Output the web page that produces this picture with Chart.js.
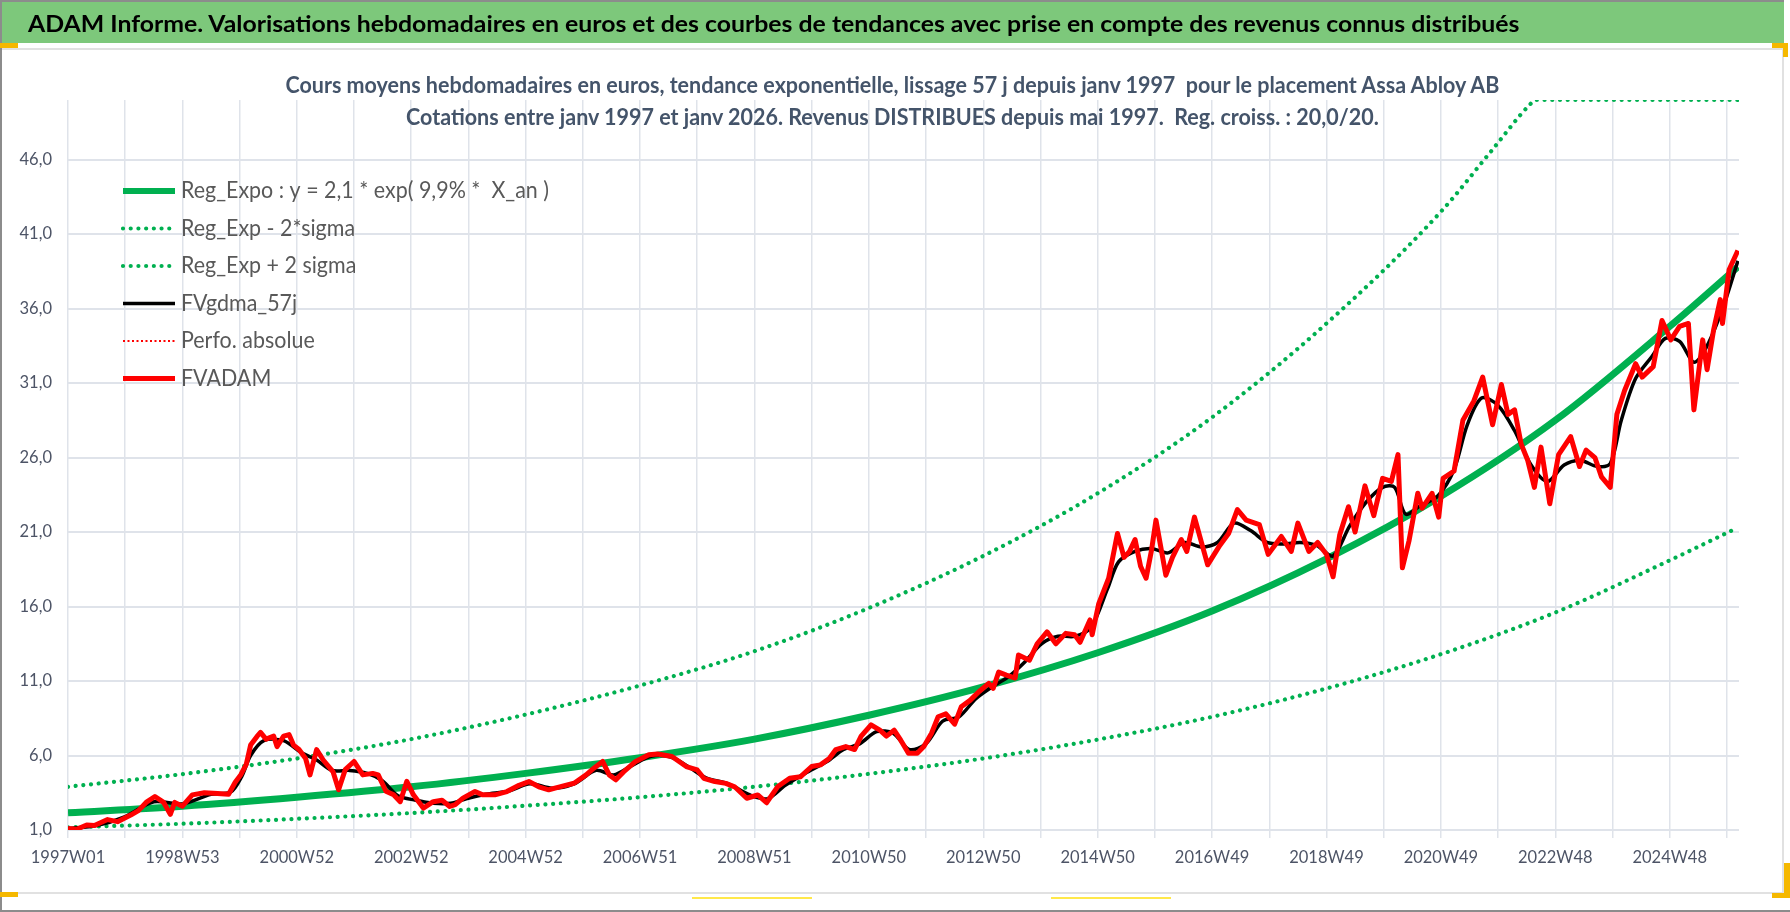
<!DOCTYPE html>
<html lang="fr">
<head>
<meta charset="utf-8">
<title>ADAM Informe - Assa Abloy AB</title>
<script src="https://cdn.jsdelivr.net/npm/chart.js@4.4.1/dist/chart.umd.min.js"></script>
<style>
  html, body { margin: 0; padding: 0; background: #fff; }
  #page { position: relative; width: 1790px; height: 912px; overflow: hidden; background: #fff; font-family: Lato, 'Open Sans', sans-serif; }
  #banner { position: absolute; left: 0; top: 0; width: 1784px; height: 43px; background: #7dc87b; border-top: 2px solid #8c8c8c; box-sizing: border-box; }
  .txt { position: absolute; white-space: pre; line-height: 1; font-weight: 700; font-size: 23px; }
  #bannerText { left: 28px; top: 11.6px; color: #000; transform-origin: 0 50%; z-index: 3; }
  .sub { color: #44546a; transform-origin: 50% 50%; z-index: 3; }
  #sub1 { top: 72.6px; }
  #sub2 { top: 104.6px; }
  #chartBox { position: absolute; left: 0; top: 0; width: 1790px; height: 912px; z-index: 2; }
  .deco { position: absolute; }
</style>
</head>
<body>
<div id="page">
  <div id="banner"></div>
  <div class="deco" style="left:0;top:48px;width:1782px;height:842px;border:2px solid #e1e1e1;border-left:none;"></div>
  <div class="deco" style="left:0;top:0;width:2px;height:912px;background:#8c8c8c;"></div>
  <div class="deco" style="left:0;top:910px;width:1790px;height:2px;background:#8c8c8c;"></div>
  <div class="deco" style="left:0;top:43px;width:18px;height:5px;background:#f5b800;"></div>
  <div class="deco" style="left:0;top:892px;width:18px;height:5px;background:#f5b800;"></div>
  <div class="deco" style="left:1772px;top:43px;width:16px;height:5px;background:#f5b800;"></div>
  <div class="deco" style="left:1783px;top:43px;width:5px;height:14px;background:#f5b800;"></div>
  <div class="deco" style="left:1784px;top:863px;width:6px;height:35px;background:#f5b800;"></div>
  <div class="deco" style="left:1772px;top:893px;width:18px;height:5px;background:#f5b800;"></div>
  <div class="deco" style="left:692px;top:897px;width:120px;height:2px;background:#ffe84a;"></div>
  <div class="deco" style="left:1051px;top:897px;width:120px;height:2px;background:#ffe84a;"></div>

  <span class="txt" id="bannerText">ADAM Informe. Valorisations hebdomadaires en euros et des courbes de tendances avec prise en compte des revenus connus distribués</span>
  <span class="txt sub" id="sub1">Cours moyens hebdomadaires en euros, tendance exponentielle, lissage 57 j depuis janv 1997  pour le placement Assa Abloy AB</span>
  <span class="txt sub" id="sub2">Cotations entre janv 1997 et janv 2026. Revenus DISTRIBUES depuis mai 1997.  Reg. croiss. : 20,0/20.</span>

  <div id="chartBox"><canvas id="adamChart"></canvas></div>
</div>

<script>
// x positions are week numbers counted from 1997W01
const xTickWeeks = [0, 104, 208, 312, 416, 520, 624, 728, 832, 936, 1040, 1144, 1248, 1352, 1456];
const xTickLabels = ['1997W01', '1998W53', '2000W52', '2002W52', '2004W52', '2006W51', '2008W51', '2010W50',
  '2012W50', '2014W50', '2016W49', '2018W49', '2020W49', '2022W48', '2024W48'];
const yTickValues = [1, 6, 11, 16, 21, 26, 31, 36, 41, 46];

// trend curves
const trendWeeks = [0, 104, 208, 312, 416, 520, 624, 728, 832, 936, 1040, 1144, 1248, 1352, 1456, 1518];
const regExpo = [2.15, 2.6, 3.2, 3.9, 4.8, 5.85, 7.1, 8.7, 10.6, 12.9, 15.7, 19.2, 23.4, 28.5, 34.8, 38.8];
const regExpMinus = [1.18, 1.42, 1.75, 2.14, 2.63, 3.2, 3.9, 4.77, 5.8, 7.07, 8.6, 10.5, 12.8, 15.6, 19.1, 21.3];
// upper band is cut flat at the top of the axis (50)
const plusWeeks = [0, 104, 208, 312, 416, 520, 624, 728, 832, 936, 1040, 1144, 1248, 1293, 1329, 1334, 1518];
const regExpPlus = [3.9, 4.75, 5.8, 7.1, 8.75, 10.7, 13.0, 15.9, 19.4, 23.6, 28.7, 35.0, 42.5, 46.5, 49.7, 50, 50];

// smoothed valuation (black)
const smoothWeeks = [0, 26, 52, 78, 104, 130, 148, 158, 166, 178, 196, 212, 226, 240, 256, 272, 286, 300, 316, 332,
  348, 362, 380, 400, 420, 440, 460, 480, 496, 512, 530, 548, 565, 580, 600, 620, 636, 652, 670, 690,
  705, 720, 735, 750, 765, 780, 795, 810, 825, 840, 855, 870, 885, 900, 915, 930, 945, 955, 970, 985,
  1000, 1015, 1030, 1045, 1060, 1075, 1090, 1105, 1120, 1135, 1150, 1165, 1180, 1195, 1206, 1216, 1230, 1245, 1260, 1272,
  1285, 1300, 1315, 1330, 1345, 1360, 1375, 1390, 1402, 1412, 1425, 1440, 1452, 1465, 1478, 1490, 1505, 1518];
const fvGdma = [1.1, 1.3, 1.9, 2.9, 2.75, 3.4, 3.55, 4.6, 6.0, 7.0, 7.0, 6.2, 5.7, 5.0, 5.0, 4.8, 4.3, 3.3, 3.0, 2.8,
  2.8, 3.1, 3.4, 3.6, 4.1, 3.8, 4.1, 5.0, 4.7, 5.3, 5.95, 5.9, 5.2, 4.5, 4.1, 3.35, 3.1, 4.0, 4.8, 5.6,
  6.4, 6.8, 7.6, 7.5, 6.4, 6.8, 8.3, 8.6, 9.8, 10.6, 11.3, 12.3, 13.5, 14.0, 14.0, 14.6, 17.2, 19.0, 19.7, 19.9,
  19.6, 20.3, 20.0, 20.3, 21.6, 21.1, 20.3, 20.2, 20.3, 20.1, 19.4, 21.4, 23.0, 24.0, 24.0, 22.2, 22.8, 23.4, 25.2, 28.2,
  30.0, 29.5, 27.8, 25.5, 24.4, 25.5, 25.8, 25.4, 25.6, 28.5, 31.3, 32.8, 34.0, 33.8, 32.4, 33.5, 36.2, 39.2];

// weekly valuation FVADAM (red)
const priceWeeks = [0, 8, 17, 24, 36, 45, 57, 64, 71, 79, 87, 93, 97, 104, 113, 124, 136, 146, 152, 157,
  162, 166, 172, 175, 180, 187, 190, 196, 201, 205, 210, 216, 220, 226, 232, 241, 246, 252, 260, 268,
  277, 282, 289, 296, 302, 308, 314, 323, 332, 340, 347, 352, 359, 370, 377, 388, 399, 410, 419, 428,
  437, 447, 460, 471, 478, 486, 492, 498, 505, 516, 528, 536, 549, 562, 572, 578, 588, 598, 606, 617,
  627, 635, 645, 656, 666, 676, 684, 692, 698, 707, 715, 721, 730, 738, 744, 751, 757, 764, 772, 778,
  785, 791, 798, 806, 812, 820, 828, 837, 841, 846, 853, 861, 864, 874, 881, 890, 898, 907, 915, 920,
  929, 931, 937, 946, 954, 960, 965, 970, 975, 980, 985, 989, 998, 1004, 1012, 1017, 1024, 1036, 1047, 1055,
  1063, 1071, 1083, 1091, 1103, 1112, 1118, 1128, 1136, 1144, 1150, 1156, 1164, 1170, 1179, 1187, 1195, 1203, 1209, 1213,
  1219, 1227, 1231, 1240, 1246, 1250, 1260, 1268, 1278, 1286, 1295, 1303, 1309, 1315, 1321, 1327, 1333, 1339, 1347, 1355,
  1366, 1374, 1380, 1388, 1394, 1402, 1408, 1415, 1425, 1431, 1441, 1449, 1457, 1465, 1473, 1478, 1486, 1490, 1496, 1502,
  1504, 1510, 1518];
const fvAdam = [1.1, 1.05, 1.34, 1.3, 1.7, 1.56, 2.0, 2.3, 2.85, 3.25, 2.85, 2.05, 2.85, 2.6, 3.36, 3.5, 3.45, 3.4, 4.2, 4.7,
  5.4, 6.7, 7.3, 7.55, 7.1, 7.3, 6.6, 7.3, 7.4, 6.7, 6.4, 5.8, 4.7, 6.4, 5.7, 4.9, 3.7, 5.05, 5.6, 4.7,
  4.8, 4.7, 3.6, 3.36, 2.9, 4.27, 3.36, 2.47, 2.9, 3.0, 2.58, 2.7, 3.14, 3.58, 3.36, 3.36, 3.58, 4.0, 4.25, 3.9,
  3.7, 3.9, 4.14, 4.7, 5.15, 5.6, 4.7, 4.37, 4.9, 5.6, 6.05, 6.1, 5.93, 5.26, 5.03, 4.47, 4.25, 4.13, 3.9, 3.13,
  3.35, 2.83, 3.9, 4.47, 4.58, 5.26, 5.37, 5.8, 6.4, 6.6, 6.4, 7.3, 8.06, 7.7, 7.3, 7.7, 7.03, 6.15, 6.15, 6.6,
  7.5, 8.6, 8.8, 8.1, 9.27, 9.7, 10.28, 10.84, 10.5, 11.6, 11.4, 11.2, 12.74, 12.4, 13.5, 14.3, 13.5, 14.2, 14.1, 13.6,
  15.1, 14.1, 16.2, 17.9, 20.9, 19.3, 19.7, 20.5, 18.7, 17.9, 19.8, 21.8, 18.1, 19.3, 20.5, 19.7, 22.0, 18.8, 20.1, 20.9,
  22.5, 21.8, 21.5, 19.5, 20.7, 19.7, 21.6, 19.7, 20.3, 19.5, 18.0, 20.8, 22.7, 21.0, 24.1, 22.1, 24.6, 24.4, 26.2, 18.6,
  20.4, 23.6, 22.6, 23.6, 22.0, 24.6, 25.1, 28.5, 29.8, 31.4, 28.2, 30.9, 28.9, 29.2, 26.9, 25.8, 24.0, 26.7, 22.9, 26.2,
  27.4, 25.4, 26.5, 26.0, 24.7, 24.0, 28.9, 30.5, 32.3, 31.4, 32.1, 35.2, 33.9, 34.8, 35.0, 29.2, 33.9, 31.9, 34.6, 36.6,
  35.0, 38.6, 39.9];

const toPoints = (xs, ys) => xs.map((x, i) => ({ x: x, y: ys[i] }));

const gridColor = '#dfe3ea';
const tickColor = '#4d5466';
const tickFont = { family: 'Lato, sans-serif', size: 16.5 };
const dotted = { borderWidth: 4.2, borderDash: [0.01, 7.7], borderCapStyle: 'round' };

// legend drawn inside the plot, top left, like the Excel original
const insideLegend = {
  id: 'insideLegend',
  afterDraw(chart) {
    const ctx = chart.ctx;
    const sets = chart.data.datasets;
    ctx.save();
    ctx.font = '23px Lato, sans-serif';
    const sx = 368 / ctx.measureText(sets[0].label).width;
    sets.forEach((ds, i) => {
      const y = 191 + i * 37.5;
      ctx.beginPath();
      ctx.strokeStyle = ds.borderColor;
      ctx.lineWidth = Math.min(ds.borderWidth, 6);
      ctx.lineCap = ds.borderCapStyle || 'butt';
      ctx.setLineDash(ds.borderDash || []);
      ctx.moveTo(123, y);
      ctx.lineTo(175, y);
      ctx.stroke();
      ctx.save();
      ctx.translate(181, y);
      ctx.scale(sx, 1);
      ctx.fillStyle = '#595959';
      ctx.textBaseline = 'middle';
      ctx.fillText(ds.label, 0, 0);
      ctx.restore();
    });
    ctx.restore();
  }
};

const ctx = document.getElementById('adamChart').getContext('2d');
const adamChart = new Chart(ctx, {
  type: 'line',
  data: {
    datasets: [
      {
        label: 'Reg_Expo : y = 2,1 * exp( 9,9% *  X_an )',
        data: toPoints(trendWeeks, regExpo),
        borderColor: '#00b050',
        borderWidth: 7,
        cubicInterpolationMode: 'monotone',
        order: 3
      },
      {
        label: 'Reg_Exp - 2*sigma',
        data: toPoints(trendWeeks, regExpMinus),
        borderColor: '#00b050',
        ...dotted,
        cubicInterpolationMode: 'monotone',
        order: 4
      },
      {
        label: 'Reg_Exp + 2 sigma',
        data: toPoints(plusWeeks, regExpPlus),
        borderColor: '#00b050',
        ...dotted,
        cubicInterpolationMode: 'monotone',
        order: 4
      },
      {
        label: 'FVgdma_57j',
        data: toPoints(smoothWeeks, fvGdma),
        borderColor: '#000000',
        borderWidth: 3.5,
        tension: 0.3,
        order: 1
      },
      {
        label: 'Perfo. absolue',
        data: toPoints(priceWeeks, fvAdam),
        borderColor: '#ff0000',
        borderWidth: 2,
        borderDash: [2, 2.5],
        order: 2
      },
      {
        label: 'FVADAM',
        data: toPoints(priceWeeks, fvAdam),
        borderColor: '#ff0000',
        borderWidth: 5,
        order: 0
      }
    ]
  },
  options: {
    responsive: true,
    maintainAspectRatio: false,
    animation: false,
    layout: { padding: { top: 100, right: 51, bottom: 22, left: 0 } },
    elements: {
      point: { radius: 0 },
      line: { borderJoinStyle: 'round' }
    },
    plugins: {
      legend: { display: false },
      title: { display: false },
      tooltip: { enabled: false }
    },
    scales: {
      x: {
        type: 'linear',
        min: 0,
        max: 1519,
        afterBuildTicks: (axis) => {
          // a gridline every 52 weeks, a label every other one
          const ticks = [];
          for (let w = 0; w <= axis.max; w += 52) ticks.push({ value: w });
          axis.ticks = ticks;
        },
        afterFit: (axis) => { axis.height = 60; },
        grid: { color: gridColor, lineWidth: 1.5, tickLength: 8 },
        border: { display: false },
        ticks: {
          autoSkip: false,
          maxRotation: 0,
          padding: 10,
          color: tickColor,
          font: tickFont,
          callback: (value) => {
            const i = xTickWeeks.indexOf(value);
            return i >= 0 ? xTickLabels[i] : '';
          }
        }
      },
      y: {
        min: 1,
        max: 50,
        afterBuildTicks: (axis) => { axis.ticks = yTickValues.map(v => ({ value: v })); },
        afterFit: (axis) => { axis.width = 68; },
        grid: { color: gridColor, lineWidth: 2, drawTicks: false },
        border: { display: false },
        ticks: {
          padding: 16,
          color: tickColor,
          font: tickFont,
          callback: (value) => value.toFixed(1).replace('.', ',')
        }
      }
    }
  },
  plugins: [insideLegend]
});

// squeeze the header texts to the widths of the original
function fitTexts() {
  const banner = document.getElementById('bannerText');
  banner.style.transform = 'scaleX(' + (1492 / banner.offsetWidth) + ')';

  const sub1 = document.getElementById('sub1');
  const sub2 = document.getElementById('sub2');
  const k = 1214 / sub1.offsetWidth;
  [sub1, sub2].forEach(el => {
    el.style.left = (892 - el.offsetWidth / 2) + 'px';
    el.style.transform = 'scaleX(' + k + ')';
  });
}
fitTexts();
window.addEventListener('load', fitTexts);
</script>
</body>
</html>
